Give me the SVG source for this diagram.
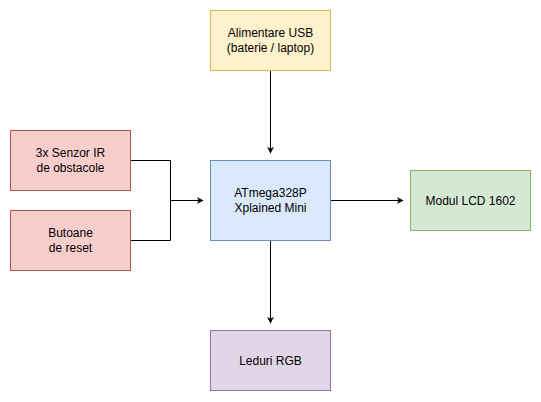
<svg xmlns="http://www.w3.org/2000/svg" width="541" height="402" viewBox="0 0 541 402">
<defs>
<marker id="arr" viewBox="0 0 10 10" refX="9" refY="5" markerWidth="7" markerHeight="7" markerUnits="userSpaceOnUse" orient="auto">
<path d="M0,0 L10,5 L0,10 L3,5 Z" fill="#000"/>
</marker>
</defs>
<style>
text{font-family:"Liberation Sans",Arial,sans-serif;font-size:12px;fill:#000;text-anchor:middle}
.c{fill:none;stroke:#000;stroke-width:1}
</style>
<rect width="541" height="402" fill="#fff"/>
<g id="connectors">
<path class="c" d="M270.5,70 V153" marker-end="url(#arr)"/>
<path class="c" d="M130,160.5 H170.5 V240.5 H130"/>
<path class="c" d="M170.5,200.5 H203" marker-end="url(#arr)"/>
<path class="c" d="M330,200.5 H403" marker-end="url(#arr)"/>
<path class="c" d="M270.5,240 V323" marker-end="url(#arr)"/>
</g>
<g id="usb">
<rect x="210.5" y="10.5" width="120" height="60" fill="#fff2cc" stroke="#d6b656"/>
<text x="270.5" y="37">Alimentare USB</text>
<text x="270.5" y="52">(baterie / laptop)</text>
</g>
<g id="senzor">
<rect x="10.5" y="130.5" width="120" height="60" fill="#f8cecc" stroke="#b85450"/>
<text x="70.5" y="157">3x Senzor IR</text>
<text x="70.5" y="172">de obstacole</text>
</g>
<g id="butoane">
<rect x="10.5" y="210.5" width="120" height="60" fill="#f8cecc" stroke="#b85450"/>
<text x="70.5" y="237">Butoane</text>
<text x="70.5" y="252">de reset</text>
</g>
<g id="atmega">
<rect x="210.5" y="160.5" width="120" height="80" fill="#dae8fc" stroke="#6c8ebf"/>
<text x="270.5" y="197">ATmega328P</text>
<text x="270.5" y="212">Xplained Mini</text>
</g>
<g id="lcd">
<rect x="410.5" y="170.5" width="120" height="60" fill="#d5e8d4" stroke="#82b366"/>
<text x="470.5" y="204.5">Modul LCD 1602</text>
</g>
<g id="leduri">
<rect x="210.5" y="330.5" width="120" height="60" fill="#e1d5e7" stroke="#9673a6"/>
<text x="270.5" y="364.5">Leduri RGB</text>
</g>
</svg>
